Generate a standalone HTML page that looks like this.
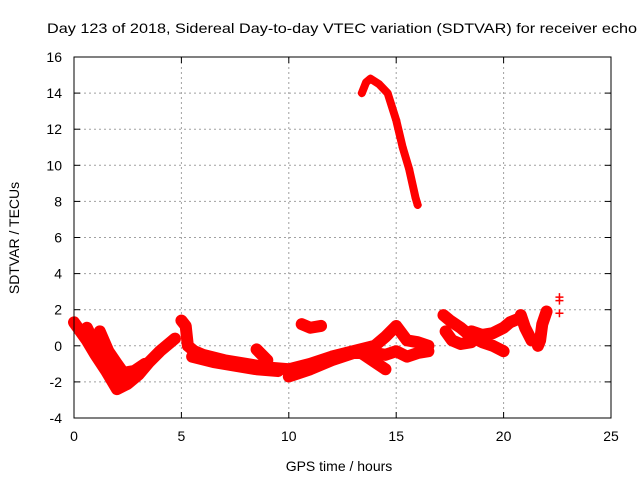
<!DOCTYPE html>
<html><head><meta charset="utf-8"><style>
body{margin:0;background:#fff}
svg{display:block;font-family:"Liberation Sans",sans-serif}
</style></head><body>
<svg id="c" width="640" height="480">
<text x="47" y="33" font-size="14" textLength="590" lengthAdjust="spacingAndGlyphs">Day 123 of 2018, Sidereal Day-to-day VTEC variation (SDTVAR) for receiver echo</text>
<text x="339" y="471" font-size="14" text-anchor="middle">GPS time / hours</text>
<text transform="translate(19,238) rotate(-90)" font-size="14" text-anchor="middle">SDTVAR / TECUs</text>
<g id="grid"></g><g id="marks"></g>
<rect x="74" y="57" width="537" height="361" fill="none" stroke="#000"/>
</svg>
<script>
const xTicks=[0,5,10,15,20,25];
const yTicks=[-4,-2,0,2,4,6,8,10,12,14,16];
const traceA=[[0,1.3],[0.3,0.8],[0.6,0.3],[1,-0.5],[1.5,-1.4],[2,-2.4],[2.5,-2.1],[3,-1.6],[3.5,-0.9],[4,-0.3],[4.5,0.2],[4.7,0.4]];
const traceB=[[0.6,1.0],[1,0],[1.4,-0.8],[1.8,-1.6]];
const traceB2=[[1.2,0.8],[1.6,-0.3],[2,-1.0],[2.3,-1.5],[2.8,-1.4],[3.3,-1.0]];
const traceB3=[[1.8,-1.3],[2.2,-1.9],[2.6,-1.7]];
const traceC=[[5,1.4],[5.2,1.1],[5.3,0],[5.6,-0.3],[6,-0.5],[7,-0.8],[8,-1.0],[9,-1.2],[10,-1.3],[11,-1.0],[12,-0.6],[13,-0.3],[14,0],[14.5,0.5],[15,1.1],[15.5,0.3],[16,0.2],[16.5,0.0]];
const traceC2=[[5.5,-0.6],[6.5,-0.9],[7.5,-1.1],[8.5,-1.3],[9.5,-1.4]];
const traceD=[[10,-1.7],[11,-1.3],[12,-0.8],[13,-0.4],[14,-0.4],[14.5,-0.5],[15,-0.3],[15.5,-0.6],[16,-0.4],[16.5,-0.3]];
const traceE=[[13.5,-0.5],[14,-0.9],[14.5,-1.3]];
const traceF=[[8.5,-0.2],[9,-0.8]];
const traceG=[[10.6,1.2],[11,1.0],[11.5,1.1]];
const traceH=[[17.2,1.7],[17.5,1.4],[18,1.0],[18.5,0.5],[19,0.2],[19.5,0],[20,-0.3]];
const traceH2=[[17.3,0.8],[17.6,0.3],[18,0.1],[18.5,0.2]];
const traceI=[[18.5,0.8],[19,0.6],[19.5,0.7],[20,1.0],[20.3,1.3],[20.7,1.5]];
const traceJ=[[20.8,1.7],[21,1.0],[21.3,0.3]];
const traceK=[[22,1.9],[21.8,1.2],[21.7,0.3],[21.6,0]];
const traceTop=[[13.4,14],[13.6,14.6],[13.8,14.8],[14.2,14.5],[14.6,14],[15,12.5],[15.3,11],[15.6,9.8],[15.9,8.2],[16,7.8]];
const loose=[[22.6,2.7],[22.6,2.5],[22.6,1.8]];
const NS='http://www.w3.org/2000/svg';
const X=h=>74+h*537/25, Y=v=>418-(v+4)*361/20;
const grid=document.getElementById('grid'), marks=document.getElementById('marks');
function mk(t,a,p){const e=document.createElementNS(NS,t);for(const k in a)e.setAttribute(k,a[k]);p.appendChild(e);return e;}
xTicks.forEach(t=>{
 if(t>0&&t<25){const l=mk('line',{x1:X(t),x2:X(t),y1:57,y2:418,stroke:'#a0a0a0','stroke-dasharray':'2,3'},grid);
 
 }
 mk('line',{x1:X(t),x2:X(t),y1:418,y2:412,stroke:'#000'},grid);
 mk('line',{x1:X(t),x2:X(t),y1:57,y2:63,stroke:'#000'},grid);
 const s=mk('text',{x:X(t),y:441,'font-size':14,'text-anchor':'middle'},grid);s.textContent=t;
 
 
});
yTicks.forEach(t=>{
 if(t>-4&&t<16){const l=mk('line',{x1:74,x2:611,y1:Y(t),y2:Y(t),stroke:'#a0a0a0','stroke-dasharray':'2,3'},grid);
 
 }
 mk('line',{x1:74,x2:80,y1:Y(t),y2:Y(t),stroke:'#000'},grid);
 mk('line',{x1:611,x2:605,y1:Y(t),y2:Y(t),stroke:'#000'},grid);
 const s=mk('text',{x:62,y:Y(t)+5,'font-size':14,'text-anchor':'end'},grid);s.textContent=t;
 
 
});
function trace(d,w){
 const p=mk('polyline',{points:d.map(q=>X(q[0])+','+Y(q[1])).join(' '),fill:'none',stroke:'#f00','stroke-width':w,'stroke-linejoin':'round','stroke-linecap':'round'},marks);
 
 
 d.forEach(q=>plus(q));
}
function plus(q){
 const x=X(q[0]),y=Y(q[1]);
 const g=mk('path',{d:`M${x-4},${y}h8M${x},${y-4}v8`,stroke:'#f00','stroke-width':1.5},marks);
 
 
}
[traceA,traceB,traceB2,traceB3,traceC,traceC2,traceD,traceE,traceF,traceG,traceH,traceH2,traceI,traceJ,traceK].forEach(d=>trace(d,12));
trace(traceTop,8);
loose.forEach(plus);
</script>
</body></html>
